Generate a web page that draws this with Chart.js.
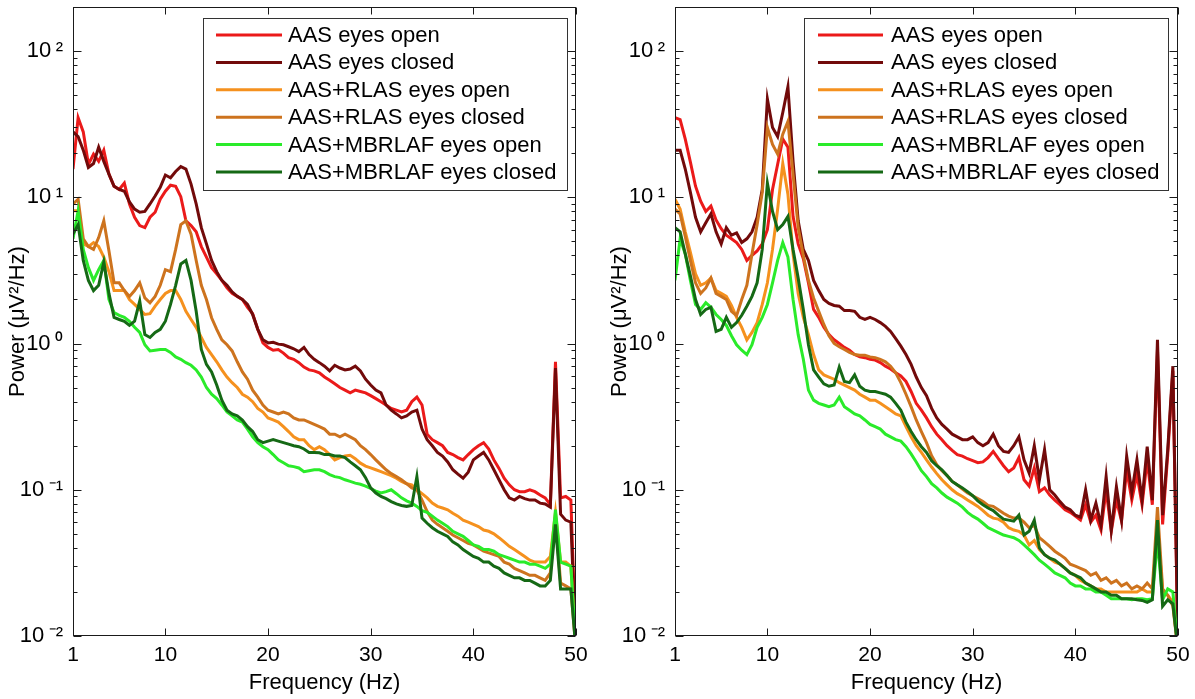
<!DOCTYPE html>
<html>
<head>
<meta charset="utf-8">
<script src="https://cdn.jsdelivr.net/npm/chart.js@4.4.1/dist/chart.umd.min.js"></script>
<style>
  html, body { margin: 0; padding: 0; background: #fff; }
  #wrap { position: relative; width: 1195px; height: 699px; }
  canvas { position: absolute; top: 0; }
  #left { left: 0; }
  #right { left: 598px; }
</style>
</head>
<body>
<div id="wrap">
  <canvas id="left" width="598" height="699"></canvas>
  <canvas id="right" width="597" height="699"></canvas>
</div>
<script>
// frequency grid (Hz)
var freq = [
  1, 1.5, 2, 2.5, 3, 3.5, 4, 4.5, 5, 5.5,
  6, 6.5, 7, 7.5, 8, 8.5, 9, 9.5, 10, 10.5,
  11, 11.5, 12, 12.5, 13, 13.5, 14, 14.5, 15, 15.5,
  16, 16.5, 17, 17.5, 18, 18.5, 19, 19.5, 20, 20.5,
  21, 21.5, 22, 22.5, 23, 23.5, 24, 24.5, 25, 25.5,
  26, 26.5, 27, 27.5, 28, 28.5, 29, 29.5, 30, 30.5,
  31, 31.5, 32, 32.5, 33, 33.5, 34, 34.5, 35, 35.5,
  36, 36.5, 37, 37.5, 38, 38.5, 39, 39.5, 40, 40.5,
  41, 41.5, 42, 42.5, 43, 43.5, 44, 44.5, 45, 45.5,
  46, 46.5, 47, 47.5, 48, 48.5, 49, 49.5, 50
];

var seriesNames = [
  'AAS eyes open', 'AAS eyes closed',
  'AAS+RLAS eyes open', 'AAS+RLAS eyes closed',
  'AAS+MBRLAF eyes open', 'AAS+MBRLAF eyes closed'
];
var seriesColors = ['#eb1a1a', '#720a0a', '#f5911e', '#cd731e', '#2aeb2a', '#156915'];

var xTicks = [1, 10, 20, 30, 40, 50];
var yTicks = [0.01, 0.1, 1, 10, 100];
var yTickLabels = ['10\u2009⁻²', '10\u2009⁻¹', '10\u2009⁰', '10\u2009¹', '10\u2009²'];

// ---- left panel (µV²/Hz) ----
var leftAasOpen = [
  15.6, 35, 28, 16.8, 19.7, 17.6, 21, 14.4, 11.9, 11.3,
  12.5, 9.0, 7.3, 6.4, 6.2, 7.3, 7.9, 9.7, 11.0, 12.1,
  11.9, 10.1, 6.9, 6.4, 5.8, 4.6, 3.9, 3.3, 3.0, 2.7,
  2.4, 2.2, 2.1, 2.0, 1.77, 1.6, 1.25, 1.01, 0.94, 0.9,
  0.91, 0.86, 0.8, 0.78, 0.74, 0.69, 0.66, 0.65, 0.63, 0.59,
  0.56, 0.53, 0.5, 0.48, 0.46, 0.48, 0.47, 0.46, 0.44, 0.42,
  0.40, 0.38, 0.36, 0.35, 0.34, 0.35, 0.40, 0.43, 0.38, 0.24,
  0.22, 0.21, 0.2, 0.18, 0.174, 0.166, 0.16, 0.174, 0.188, 0.2,
  0.21, 0.19, 0.16, 0.14, 0.12, 0.108, 0.1, 0.097, 0.097, 0.1,
  0.097, 0.092, 0.088, 0.079, 0.75, 0.088, 0.09, 0.085, 0.008
];
var leftAasClosed = [
  28, 26, 21, 16, 17, 22, 17.6, 14.4, 11.9, 11.3,
  11.0, 9.3, 8.3, 7.9, 8.0, 9.0, 10.2, 11.7, 14.2, 13.6,
  15, 16.2, 15.6, 12.3, 9.0, 6.2, 4.8, 3.7, 3.1, 2.7,
  2.5, 2.25, 2.1, 2.0, 1.85, 1.58, 1.25, 1.06, 1.01, 1.02,
  0.99, 0.98, 0.95, 0.92, 0.88, 0.94, 0.84, 0.78, 0.74, 0.7,
  0.65, 0.71, 0.68, 0.66, 0.67, 0.7, 0.65, 0.57, 0.52, 0.48,
  0.46, 0.38, 0.35, 0.33, 0.31, 0.32, 0.34, 0.35, 0.26, 0.22,
  0.2, 0.18, 0.17, 0.155, 0.137, 0.128, 0.12, 0.132, 0.16, 0.17,
  0.18, 0.16, 0.137, 0.117, 0.1, 0.088, 0.085, 0.09, 0.087, 0.085,
  0.085, 0.081, 0.08, 0.076, 0.68, 0.068, 0.062, 0.06, 0.008
];
var leftRlasOpen = [
  8.1, 8.1, 4.8, 4.6, 4.9, 4.6, 3.9, 3.1, 2.3, 2.3,
  2.3, 2.0, 1.85, 1.71, 1.58, 1.6, 1.8, 2.0, 2.2, 2.3,
  2.3, 2.0, 1.66, 1.46, 1.29, 1.1, 0.94, 0.84, 0.75, 0.66,
  0.59, 0.54, 0.5, 0.45, 0.43, 0.40, 0.36, 0.34, 0.31, 0.3,
  0.29, 0.27, 0.25, 0.23, 0.22, 0.22, 0.2, 0.188, 0.197, 0.188,
  0.174, 0.16, 0.166, 0.17, 0.172, 0.163, 0.152, 0.145, 0.141, 0.137,
  0.133, 0.129, 0.125, 0.12, 0.114, 0.11, 0.108, 0.1, 0.094, 0.088,
  0.081, 0.077, 0.075, 0.073, 0.069, 0.066, 0.062, 0.06, 0.058, 0.056,
  0.053, 0.052, 0.05, 0.047, 0.044, 0.041, 0.039, 0.037, 0.035, 0.033,
  0.032, 0.032, 0.032, 0.035, 0.07, 0.032, 0.032, 0.03, 0.008
];
var leftRlasClosed = [
  9.0, 9.7, 5.2, 4.6, 4.4, 5.3, 6.9, 4.3, 2.6, 2.6,
  2.3, 2.1, 2.3, 2.6, 2.05, 1.9, 2.1, 2.5, 3.2, 3.1,
  4.4, 6.5, 6.9, 5.6, 3.7, 2.5, 2.0, 1.5, 1.25, 1.06,
  0.98, 0.89, 0.75, 0.64, 0.57, 0.48, 0.43, 0.38, 0.35, 0.34,
  0.33, 0.34, 0.33, 0.31, 0.3, 0.3, 0.29, 0.28, 0.27, 0.26,
  0.24, 0.24, 0.23, 0.24, 0.23, 0.22, 0.2, 0.188, 0.174, 0.16,
  0.148, 0.137, 0.129, 0.123, 0.117, 0.11, 0.103, 0.1, 0.085, 0.071,
  0.062, 0.058, 0.055, 0.052, 0.049, 0.047, 0.045, 0.043, 0.042, 0.04,
  0.038, 0.037, 0.036, 0.035, 0.032, 0.031, 0.029, 0.028, 0.027, 0.026,
  0.026, 0.025, 0.024, 0.027, 0.065, 0.023, 0.022, 0.021, 0.008
];
var leftMbrlafOpen = [
  5.2, 8.1, 4.4, 3.3, 2.7, 3.2, 3.7, 2.0, 1.63, 1.56,
  1.51, 1.42, 1.29, 1.19, 0.98, 0.89, 0.9, 0.91, 0.91, 0.87,
  0.81, 0.78, 0.74, 0.71, 0.66, 0.59, 0.5, 0.45, 0.42, 0.38,
  0.34, 0.32, 0.3, 0.29, 0.26, 0.23, 0.21, 0.197, 0.188, 0.174,
  0.16, 0.153, 0.146, 0.144, 0.141, 0.133, 0.135, 0.137, 0.137, 0.133,
  0.127, 0.123, 0.121, 0.117, 0.114, 0.111, 0.109, 0.106, 0.102, 0.098,
  0.095, 0.097, 0.1, 0.094, 0.088, 0.084, 0.081, 0.077, 0.072, 0.07,
  0.066, 0.062, 0.059, 0.056, 0.052, 0.05, 0.048, 0.045, 0.042, 0.041,
  0.039, 0.039, 0.038, 0.036, 0.035, 0.034, 0.033, 0.032, 0.032, 0.031,
  0.031, 0.03, 0.029, 0.031, 0.073, 0.032, 0.031, 0.03, 0.008
];
var leftMbrlafClosed = [
  5.6, 6.5, 3.7, 2.7, 2.3, 2.5, 3.6, 2.2, 1.51, 1.46,
  1.42, 1.33, 1.42, 1.95, 1.15, 1.1, 1.19, 1.25, 1.42, 1.85,
  2.5, 3.5, 3.7, 2.7, 1.66, 0.91, 0.72, 0.64, 0.52, 0.41,
  0.35, 0.33, 0.32, 0.3, 0.27, 0.25, 0.22, 0.21, 0.215, 0.22,
  0.215, 0.21, 0.205, 0.2, 0.197, 0.19, 0.18, 0.18, 0.179, 0.174,
  0.174, 0.17, 0.17, 0.166, 0.155, 0.146, 0.137, 0.121, 0.103, 0.095,
  0.09, 0.087, 0.083, 0.08, 0.078, 0.077, 0.078, 0.123, 0.064, 0.059,
  0.055, 0.052, 0.05, 0.048, 0.044, 0.042, 0.039, 0.037, 0.035, 0.034,
  0.032, 0.032, 0.03, 0.029, 0.027, 0.026, 0.025, 0.025, 0.024, 0.024,
  0.023, 0.022, 0.022, 0.024, 0.058, 0.021, 0.021, 0.021, 0.008
];

// ---- right panel (µV²/Hz) ----
var rightAasOpen = [
  35, 34, 25, 17.4, 11.9, 9.4, 8.0, 8.7, 7.0, 6.1,
  5.5, 5.2, 4.9, 4.4, 3.7, 4.0, 4.3, 4.8, 6.0, 11.3,
  16.8, 25, 22, 7.4, 4.8, 3.8, 2.6, 1.71, 1.51, 1.29,
  1.15, 1.06, 1.0, 0.94, 0.9, 0.84, 0.81, 0.8, 0.78, 0.77,
  0.74, 0.7, 0.67, 0.63, 0.6, 0.55, 0.47, 0.39, 0.35, 0.31,
  0.27, 0.24, 0.22, 0.2, 0.186, 0.174, 0.17, 0.163, 0.158, 0.153,
  0.155, 0.166, 0.183, 0.163, 0.146, 0.133, 0.141, 0.166, 0.117, 0.106,
  0.141, 0.097, 0.103, 0.092, 0.085, 0.079, 0.073, 0.07, 0.066, 0.062,
  0.079, 0.06, 0.067, 0.053, 0.1, 0.052, 0.085, 0.061, 0.137, 0.085,
  0.127, 0.079, 0.16, 0.079, 0.91, 0.058, 0.174, 0.65, 0.008
];
var rightAasClosed = [
  21, 21, 15.6, 10.8, 7.3, 5.8, 6.7, 7.7, 5.8, 4.8,
  6.2, 5.5, 5.7, 4.9, 5.2, 5.8, 7.3, 11.3, 47, 30,
  26, 38, 57, 17.6, 6.9, 4.4, 3.7, 2.7, 2.3, 2.0,
  1.88, 1.82, 1.8, 1.68, 1.68, 1.66, 1.51, 1.46, 1.51, 1.46,
  1.39, 1.31, 1.21, 1.08, 0.96, 0.84, 0.72, 0.59, 0.5, 0.44,
  0.36, 0.31, 0.28, 0.26, 0.24, 0.23, 0.22, 0.22, 0.23, 0.21,
  0.2, 0.21, 0.24, 0.2, 0.183, 0.18, 0.2, 0.23, 0.16, 0.13,
  0.2, 0.117, 0.188, 0.1, 0.092, 0.083, 0.076, 0.073, 0.067, 0.065,
  0.1, 0.062, 0.081, 0.057, 0.123, 0.053, 0.105, 0.062, 0.17, 0.096,
  0.16, 0.085, 0.197, 0.085, 1.06, 0.067, 0.188, 0.7, 0.008
];
var rightRlasOpen = [
  9.7, 8.3, 5.8, 4.2, 3.0, 2.5, 2.6, 2.8, 2.3, 2.2,
  2.1, 1.82, 1.51, 1.29, 1.06, 1.19, 1.39, 1.85, 2.6, 4.4,
  8.3, 17, 10.5, 4.1, 2.2, 1.51, 1.15, 0.84, 0.66, 0.61,
  0.59, 0.57, 0.54, 0.52, 0.5, 0.48, 0.45, 0.43, 0.41, 0.41,
  0.39, 0.37, 0.35, 0.33, 0.32, 0.27, 0.23, 0.2, 0.18, 0.16,
  0.143, 0.129, 0.117, 0.108, 0.1, 0.094, 0.09, 0.085, 0.081, 0.077,
  0.072, 0.067, 0.064, 0.063, 0.06, 0.055, 0.053, 0.052, 0.049, 0.042,
  0.045, 0.039, 0.036, 0.034, 0.032, 0.031, 0.029, 0.027, 0.026, 0.024,
  0.023, 0.022, 0.021, 0.021, 0.02, 0.02, 0.02, 0.02, 0.02, 0.02,
  0.02, 0.021, 0.02, 0.02, 0.058, 0.02, 0.019, 0.017, 0.008
];
var rightRlasClosed = [
  8.3, 7.7, 5.4, 3.7, 2.6, 2.2, 2.4, 2.8, 2.2, 2.1,
  2.0, 1.66, 1.55, 2.0, 2.5, 4.1, 6.5, 10.8, 30, 23,
  19.7, 27, 33, 14.4, 6.2, 4.0, 2.7, 2.05, 1.66, 1.35,
  1.13, 1.0, 0.95, 0.91, 0.87, 0.84, 0.83, 0.83, 0.81, 0.8,
  0.78, 0.75, 0.7, 0.63, 0.54, 0.45, 0.37, 0.3, 0.25, 0.21,
  0.171, 0.148, 0.135, 0.125, 0.114, 0.108, 0.101, 0.095, 0.091, 0.087,
  0.083, 0.078, 0.077, 0.073, 0.069, 0.066, 0.064, 0.064, 0.06, 0.055,
  0.057, 0.047, 0.044, 0.041, 0.038, 0.036, 0.034, 0.031, 0.03, 0.029,
  0.028, 0.026, 0.027, 0.024, 0.025, 0.023, 0.024, 0.022, 0.023, 0.021,
  0.022, 0.021, 0.023, 0.021, 0.076, 0.021, 0.019, 0.016, 0.008
];
var rightMbrlafOpen = [
  2.7, 5.2, 4.1, 2.7, 1.85, 1.71, 1.9, 1.77, 1.58, 1.46,
  1.33, 1.13, 0.98, 0.9, 0.84, 0.98, 1.29, 1.51, 1.85, 2.6,
  3.7, 4.9, 3.9, 2.0, 1.15, 0.78, 0.48, 0.41, 0.39, 0.38,
  0.37, 0.38, 0.43, 0.37, 0.35, 0.33, 0.32, 0.3, 0.28, 0.27,
  0.26, 0.24, 0.23, 0.22, 0.215, 0.197, 0.176, 0.155, 0.135, 0.123,
  0.11, 0.103, 0.095, 0.089, 0.085, 0.081, 0.076, 0.07, 0.066, 0.063,
  0.059, 0.055, 0.053, 0.051, 0.049, 0.048, 0.047, 0.045, 0.042, 0.039,
  0.036, 0.033, 0.031, 0.029, 0.027, 0.026, 0.025, 0.023, 0.022, 0.022,
  0.021, 0.021, 0.02, 0.02, 0.019, 0.018, 0.018, 0.018, 0.018, 0.0177,
  0.018, 0.018, 0.0177, 0.018, 0.045, 0.0177, 0.021, 0.02, 0.008
];
var rightMbrlafClosed = [
  6.2, 5.8, 4.1, 2.9, 2.0, 1.58, 1.71, 1.77, 1.21, 1.25,
  1.51, 1.29, 1.39, 1.56, 1.8, 2.1, 2.6, 4.4, 12.5, 8.0,
  6.0, 6.5, 7.4, 4.4, 2.8, 1.71, 0.98, 0.66, 0.59, 0.53,
  0.51, 0.52, 0.69, 0.55, 0.54, 0.61, 0.51, 0.48, 0.47, 0.47,
  0.46, 0.45, 0.43, 0.39, 0.35, 0.29, 0.25, 0.22, 0.197, 0.18,
  0.158, 0.146, 0.137, 0.125, 0.114, 0.108, 0.103, 0.097, 0.091, 0.084,
  0.079, 0.075, 0.072, 0.067, 0.063, 0.062, 0.061, 0.067, 0.049, 0.052,
  0.062, 0.04, 0.036, 0.034, 0.033, 0.031, 0.029, 0.027, 0.026, 0.025,
  0.023, 0.022, 0.021, 0.02, 0.02, 0.019, 0.019, 0.018, 0.018, 0.018,
  0.0177, 0.0175, 0.017, 0.0177, 0.062, 0.016, 0.0177, 0.0166, 0.008
];

Chart.defaults.font.family = '"Liberation Sans", Arial, Helvetica, sans-serif';
Chart.defaults.color = '#000';

// box round the plot area with inward ticks on all four sides
var frameTicks = {
  id: 'frameTicks',
  afterDatasetsDraw: function (chart) {
    var ctx = chart.ctx, a = chart.chartArea;
    var xs = chart.scales.x, ys = chart.scales.y;
    var l = Math.round(a.left) + 0.5, r = Math.round(a.right) - 0.5;
    var t = Math.round(a.top) + 0.5, b = Math.round(a.bottom) - 0.5;
    ctx.save();
    ctx.strokeStyle = '#1a1a1a';
    ctx.lineWidth = 1;
    ctx.beginPath();
    for (var d = -2; d <= 2; d++) {
      for (var k = 1; k <= 9; k++) {
        var v = k * Math.pow(10, d);
        if (v < 0.01 || v > 200) continue;
        var py = Math.round(ys.getPixelForValue(v)) + 0.5;
        var len = k === 1 ? 8 : 4;
        ctx.moveTo(l, py); ctx.lineTo(l + len, py);
        ctx.moveTo(r, py); ctx.lineTo(r - len, py);
      }
    }
    xTicks.forEach(function (tv) {
      var px = Math.round(xs.getPixelForValue(tv)) + 0.5;
      ctx.moveTo(px, b); ctx.lineTo(px, b - 7);
      ctx.moveTo(px, t); ctx.lineTo(px, t + 7);
    });
    ctx.stroke();
    ctx.strokeRect(l, t, r - l, b - t);
    ctx.restore();
  }
};

// MATLAB-like legend box inside the axes
var panelLegend = {
  id: 'panelLegend',
  afterDraw: function (chart, args, o) {
    var ctx = chart.ctx;
    ctx.save();
    ctx.fillStyle = '#fff';
    ctx.fillRect(o.left, o.top, o.width, o.height);
    ctx.strokeStyle = '#333';
    ctx.lineWidth = 1;
    ctx.strokeRect(o.left + 0.5, o.top + 0.5, o.width, o.height);
    ctx.font = '22px "Liberation Sans", Arial, Helvetica, sans-serif';
    ctx.textBaseline = 'middle';
    chart.data.datasets.forEach(function (ds, i) {
      var yy = o.firstRow + i * o.rowStep;
      ctx.strokeStyle = ds.borderColor;
      ctx.lineWidth = 3;
      ctx.beginPath();
      ctx.moveTo(o.lineStart, yy);
      ctx.lineTo(o.lineEnd, yy);
      ctx.stroke();
      ctx.fillStyle = '#000';
      ctx.fillText(ds.label, o.textStart, yy + 1);
    });
    ctx.restore();
  }
};

function makePanel(canvasId, series, legendBox, axisWidth, rightPad, titlePad) {
  var datasets = series.map(function (vals, i) {
    return {
      label: seriesNames[i],
      data: freq.map(function (f, j) { return { x: f, y: vals[j] }; }),
      borderColor: seriesColors[i],
      borderWidth: 3,
      pointRadius: 0,
      fill: false,
      tension: 0,
      clip: 0,
      order: series.length - 1 - i
    };
  });

  return new Chart(document.getElementById(canvasId), {
    type: 'line',
    data: { datasets: datasets },
    options: {
      responsive: false,
      animation: false,
      events: [],
      layout: { padding: { top: 7, right: rightPad, left: 0, bottom: 0 } },
      plugins: {
        legend: { display: false },
        tooltip: { enabled: false },
        panelLegend: legendBox
      },
      scales: {
        x: {
          type: 'linear',
          min: 1,
          max: 50,
          afterBuildTicks: function (s) {
            s.ticks = xTicks.map(function (v) { return { value: v }; });
          },
          afterFit: function (s) {
            s.height = 63;
            s.paddingLeft = 0;
            s.paddingRight = 0;
          },
          grid: { display: false, drawTicks: false },
          border: { display: false },
          ticks: { font: { size: 21 }, color: '#000', padding: 7, maxRotation: 0, autoSkip: false },
          title: {
            display: true,
            text: 'Frequency (Hz)',
            font: { size: 22 },
            color: '#000',
            padding: { top: 0, bottom: 3 }
          }
        },
        y: {
          type: 'logarithmic',
          min: 0.01,
          max: 200,
          afterBuildTicks: function (s) {
            s.ticks = yTicks.map(function (v) { return { value: v }; });
          },
          afterFit: function (s) {
            s.width = axisWidth;
            s.paddingTop = 0;
            s.paddingBottom = 0;
          },
          grid: { display: false, drawTicks: false },
          border: { display: false },
          ticks: {
            font: { size: 22 },
            color: '#000',
            padding: 10,
            autoSkip: false,
            callback: function (v) {
              var k = yTicks.indexOf(v);
              return k >= 0 ? yTickLabels[k] : '';
            }
          },
          title: {
            display: true,
            text: 'Power (μV²/Hz)',
            font: { size: 22 },
            color: '#000',
            padding: { top: titlePad, bottom: 0 }
          }
        }
      }
    },
    plugins: [frameTicks, panelLegend]
  });
}

makePanel('left',
  [leftAasOpen, leftAasClosed, leftRlasOpen, leftRlasClosed, leftMbrlafOpen, leftMbrlafClosed],
  { left: 203, top: 18, width: 364, height: 172, firstRow: 35, rowStep: 27.4, lineStart: 216, lineEnd: 282, textStart: 288 },
  73, 22, 5);

makePanel('right',
  [rightAasOpen, rightAasClosed, rightRlasOpen, rightRlasClosed, rightMbrlafOpen, rightMbrlafClosed],
  { left: 206, top: 18, width: 364, height: 172, firstRow: 35, rowStep: 27.4, lineStart: 220, lineEnd: 285, textStart: 293 },
  77, 17, 9);
</script>
</body>
</html>
